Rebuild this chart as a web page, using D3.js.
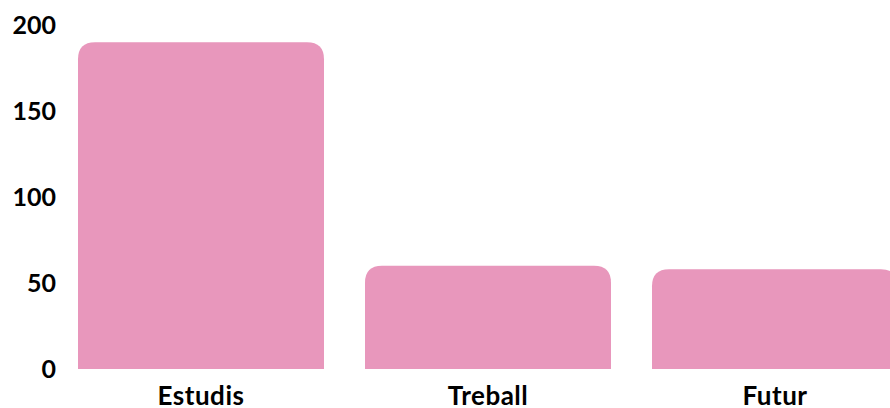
<!DOCTYPE html>
<html><head><meta charset="utf-8">
<script src="https://cdn.jsdelivr.net/npm/d3@7"></script>
<style>html,body{margin:0;padding:0;background:#fff;overflow:hidden}</style>
</head><body>
<svg id="c" width="890" height="408"></svg>
<script>
const categories = ["Estudis", "Treball", "Futur"];
const values = [190, 60, 58];
const yTicks = [0, 50, 100, 150, 200];

const svg = d3.select("#c");
const font = "Lato, 'Open Sans', sans-serif";
const x = d3.scaleBand().domain(categories).range([78, 898]).paddingInner(41/287).paddingOuter(0);
const y = d3.scaleLinear().domain([0, 200]).range([369, 25]);
const r = 17;

svg.selectAll("path.bar").data(categories).join("path")
  .attr("class", "bar")
  .attr("fill", "#e897bc")
  .attr("d", (c, i) => {
    const x0 = x(c), w = x.bandwidth(), y0 = y(values[i]), yb = y(0);
    return `M${x0},${yb} L${x0},${y0 + r} Q${x0},${y0} ${x0 + r},${y0} L${x0 + w - r},${y0} Q${x0 + w},${y0} ${x0 + w},${y0 + r} L${x0 + w},${yb} Z`;
  });

const yAxis = svg.append("g").attr("transform", "translate(56,0)")
  .call(d3.axisLeft(y).tickValues(yTicks).tickSize(0).tickPadding(0));
yAxis.select(".domain").remove();
yAxis.selectAll("text").attr("font-family", font).attr("font-weight", 700)
  .attr("font-size", 25).attr("fill", "#000");

const xAxis = svg.append("g").attr("transform", "translate(0,369)")
  .call(d3.axisBottom(x).tickSize(0).tickPadding(18));
xAxis.select(".domain").remove();
xAxis.selectAll("text").attr("font-family", font).attr("font-weight", 700)
  .attr("font-size", 26).attr("letter-spacing", 0.5).attr("fill", "#000");
</script>
</body></html>
